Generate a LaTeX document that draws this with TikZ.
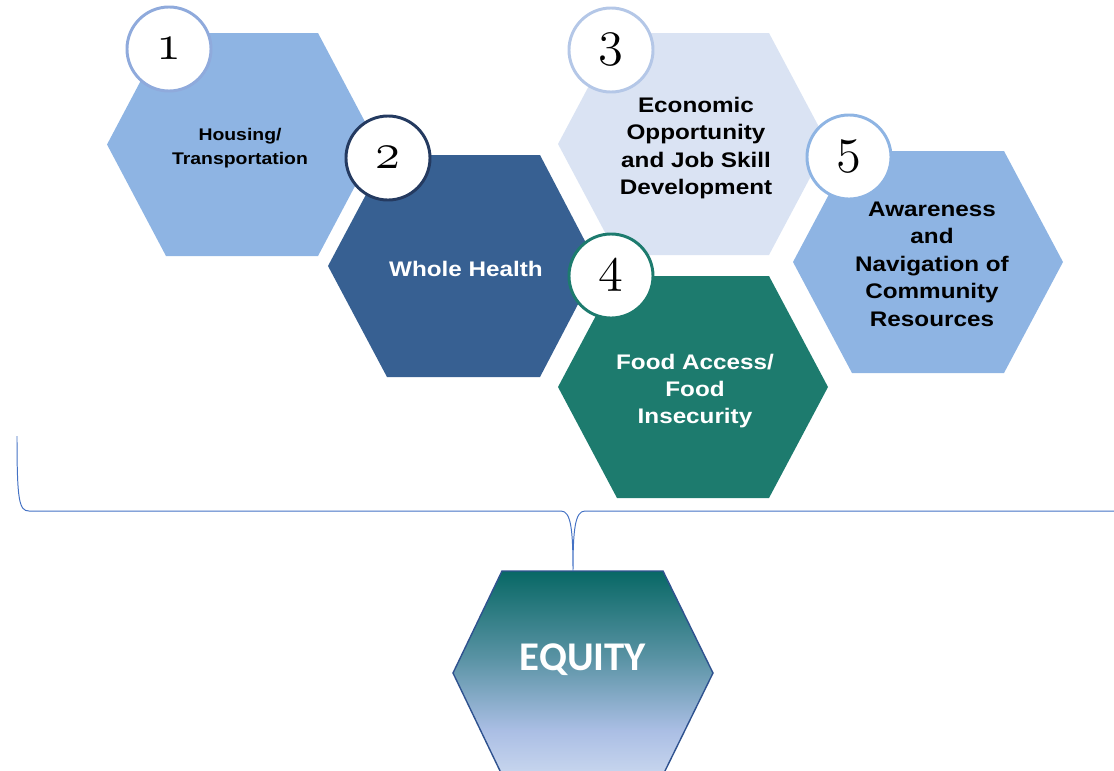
\documentclass[tikz,border=0pt]{standalone}
\usepackage{fontspec}
\newfontfamily\hexfont{Liberation Sans}[FakeStretch=1.15]
\newfontfamily\equityfont{Carlito}
\newcommand\ringnum[1]{\scalebox{1.45}{\usefont{OML}{lmm}{m}{it}#1}}

\definecolor{skyhex}{RGB}{142,180,227}
\definecolor{navyhex}{RGB}{55,96,146}
\definecolor{palehex}{RGB}{218,227,243}
\definecolor{tealhex}{RGB}{29,123,110}
\definecolor{ringone}{RGB}{143,170,220}
\definecolor{ringtwo}{RGB}{36,58,96}
\definecolor{ringthree}{RGB}{180,199,231}
\definecolor{bracecol}{RGB}{68,114,196}
\definecolor{eqteal}{RGB}{8,104,101}
\definecolor{eqmid}{RGB}{88,146,163}
\definecolor{eqblue}{RGB}{170,190,228}
\definecolor{eqlight}{RGB}{200,214,238}
\definecolor{eqedge}{RGB}{47,82,143}

\pgfdeclareverticalshading{equityfade}{100bp}{color(0bp)=(eqlight); color(25bp)=(eqlight); color(36bp)=(eqblue); color(54bp)=(eqmid); color(75bp)=(eqteal); color(100bp)=(eqteal)}

\begin{document}
\begin{tikzpicture}[x=.025cm,y=-.025cm,
	hextext/.style={font=\hexfont\bfseries\fontsize{15}{19.5}\selectfont,align=center},
	numring/.style={circle,fill=white,draw=#1,line width=2.1pt,minimum size=2.1cm,inner sep=0pt,font=\fontsize{54}{54}\selectfont}]
	\useasboundingbox (0,0) rectangle (1114,771);
	
	\fill[skyhex] (166,33) -- (318,33) -- (377,144.5) -- (318,256) -- (166,256) -- (107,144.5) -- cycle;
	\fill[navyhex] (387,155) -- (540,155) -- (598,266) -- (540,377) -- (387,377) -- (328,266) -- cycle;
	\fill[palehex] (617,33) -- (769,33) -- (828,144) -- (769,255) -- (617,255) -- (558,144) -- cycle;
	\fill[tealhex] (617,276) -- (769,276) -- (828,387) -- (769,498) -- (617,498) -- (558,387) -- cycle;
	\fill[skyhex] (852,151) -- (1004,151) -- (1063,262) -- (1004,373) -- (852,373) -- (793,262) -- cycle;
	
	\path[shading=equityfade,draw=eqedge,line width=1pt] (502,571) -- (663,571) -- (713,673) -- (663,775) -- (502,775) -- (453,673) -- cycle;
	
	\node[hextext,font=\hexfont\bfseries\fontsize{12}{17}\selectfont] (housing) at (240,148){Housing/\\Transportation};
	\node[hextext,text=white] (health) at (466,269){Whole Health};
	\node[hextext] (economic) at (696,148){Economic\\Opportunity\\and Job Skill\\Development};
	\node[hextext,text=white] (food) at (695,391){Food Access/\\Food\\Insecurity};
	\node[hextext] (awareness) at (932,264){Awareness\\and\\Navigation of\\Community\\Resources};
	\node[text=white,font=\equityfont\bfseries\fontsize{29}{29}\selectfont] (equity) at (583,660){EQUITY};
	
	\node[numring=ringone] (one) at (169,49){\ringnum{1}};
	\node[numring=ringtwo] (two) at (388,158){\ringnum{2}};
	\node[numring=ringthree] (three) at (611,50){\ringnum{3}};
	\node[numring=tealhex] (four) at (611,276){\ringnum{4}};
	\node[numring=skyhex] (five) at (849,157){\ringnum{5}};
	
	\coordinate (braceleft) at (17,436);
	\coordinate (braceright) at (1114,511);
	\coordinate (bracetip) at (573,571);
	\draw[bracecol,line width=.7pt] (braceleft) .. controls (17,500) and (19,511) .. (29,511) -- (561,511) .. controls (571,511) and (573,530) .. (bracetip) .. controls (573,530) and (575,511) .. (585,511) -- (braceright);
	
\end{tikzpicture}
\end{document}
